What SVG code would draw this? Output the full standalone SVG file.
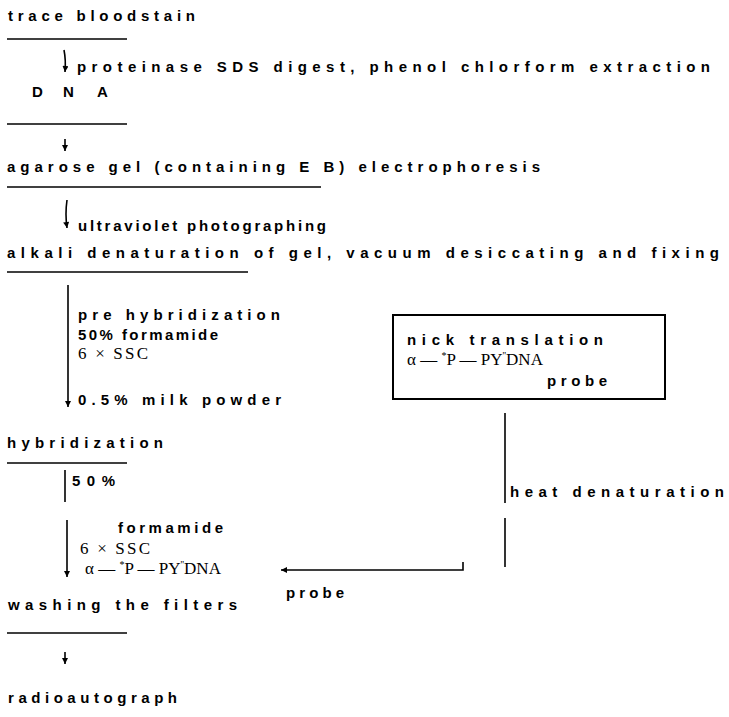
<svg xmlns="http://www.w3.org/2000/svg" width="729" height="717" viewBox="0 0 729 717">
<defs>
<style>
.t{font-family:"Liberation Sans",Arial,sans-serif;font-weight:bold;font-size:15px;fill:#000}
.s{font-family:"Liberation Serif","Times New Roman",serif;font-size:17px;fill:#000}
.ln{stroke:#000;stroke-width:1.6;fill:none}
.ul{stroke:#000;stroke-width:1.5}
.box{stroke:#000;stroke-width:2;fill:none}
</style>
<marker id="ah" viewBox="0 0 10 10" refX="10" refY="5" markerWidth="8" markerHeight="6" markerUnits="userSpaceOnUse" orient="auto">
<path d="M0,0 L10,5 L0,10 z" fill="#000"/>
</marker>
</defs>
<rect width="729" height="717" fill="#fff"/>

<g id="n-trace">
<text class="t" x="8" y="21" textLength="187" lengthAdjust="spacing">trace bloodstain</text>
<line class="ul" x1="7" y1="39" x2="127" y2="39"/>
</g>
<g id="n-step1">
<text class="t" x="77" y="72" textLength="633" lengthAdjust="spacing">proteinase SDS  digest, phenol chlorform  extraction</text>
</g>
<g id="n-dna">
<text class="t" x="32" y="97" font-size="16">D</text>
<text class="t" x="63" y="97" font-size="16">N</text>
<text class="t" x="97" y="97" font-size="16">A</text>
<line class="ul" x1="7" y1="124" x2="127" y2="124"/>
</g>
<g id="n-agarose">
<text class="t" x="7" y="172" textLength="533" lengthAdjust="spacing">agarose gel (containing E B) electrophoresis</text>
<line class="ul" x1="7" y1="187" x2="321" y2="187"/>
</g>
<g id="n-uv">
<text class="t" x="78" y="231" textLength="248" lengthAdjust="spacing">ultraviolet photographing</text>
</g>
<g id="n-alkali">
<text class="t" x="7" y="258" textLength="712" lengthAdjust="spacing">alkali denaturation of gel, vacuum desiccating and fixing</text>
<line class="ul" x1="7" y1="272" x2="248" y2="272"/>
</g>
<g id="n-prehyb">
<text class="t" x="78" y="320" textLength="202" lengthAdjust="spacing">pre hybridization</text>
<text class="t" x="78" y="340" textLength="140" lengthAdjust="spacing">50% formamide</text>
<text class="s" x="78" y="359" textLength="70" lengthAdjust="spacing">6 × SSC</text>
<text class="t" x="78" y="405" textLength="203" lengthAdjust="spacing">0.5%  milk powder</text>
</g>
<g id="n-nick">
<rect class="box" x="393" y="315" width="272" height="84"/>
<text class="t" x="407" y="345" textLength="196" lengthAdjust="spacing">nick translation</text>
<text class="s" x="407" y="365" font-size="16">α  — <tspan font-size="10" dy="-6">*</tspan><tspan dy="6">P — PY</tspan><tspan font-size="10" dy="-6">''</tspan><tspan dy="6">DNA</tspan></text>
<text class="t" x="547" y="386" textLength="60" lengthAdjust="spacing">probe</text>
</g>
<g id="n-hyb">
<text class="t" x="7" y="448" textLength="156" lengthAdjust="spacing">hybridization</text>
<line class="ul" x1="7" y1="463" x2="127" y2="463"/>
</g>
<g id="n-hybcond">
<text class="t" x="72" y="486" textLength="43" lengthAdjust="spacing">50%</text>
<text class="t" x="118" y="533" textLength="105" lengthAdjust="spacing">formamide</text>
<text class="s" x="80" y="554" textLength="70" lengthAdjust="spacing">6 × SSC</text>
<text class="s" x="85" y="574" font-size="17">α  — <tspan font-size="10" dy="-6">*</tspan><tspan dy="6">P — PY</tspan><tspan font-size="10" dy="-6">''</tspan><tspan dy="6">DNA</tspan></text>
<text class="t" x="286" y="598" textLength="58" lengthAdjust="spacing">probe</text>
</g>
<g id="n-heat">
<text class="t" x="510" y="497" textLength="214" lengthAdjust="spacing">heat denaturation</text>
</g>
<g id="n-wash">
<text class="t" x="8" y="610" textLength="229" lengthAdjust="spacing">washing the filters</text>
<line class="ul" x1="7" y1="633" x2="127" y2="633"/>
</g>
<g id="n-radio">
<text class="t" x="8" y="703" textLength="169" lengthAdjust="spacing">radioautograph</text>
</g>

<g id="connectors">
<path class="ln" d="M64,50 Q66,60 65,72" marker-end="url(#ah)"/>
<line class="ln" x1="65" y1="139" x2="65" y2="151" marker-end="url(#ah)"/>
<path class="ln" d="M67,200 Q65,214 67,228" marker-end="url(#ah)"/>
<line class="ln" x1="68" y1="285" x2="68" y2="407" marker-end="url(#ah)"/>
<line class="ln" x1="65" y1="470" x2="65" y2="502"/>
<line class="ln" x1="67" y1="520" x2="67" y2="577" marker-end="url(#ah)"/>
<line class="ln" x1="65" y1="652" x2="65" y2="664" marker-end="url(#ah)"/>
<line class="ln" x1="505" y1="413" x2="505" y2="503"/>
<line class="ln" x1="505" y1="518" x2="505" y2="567"/>
<path class="ln" d="M463,562 V570 H281" marker-end="url(#ah)"/>
</g>
</svg>
